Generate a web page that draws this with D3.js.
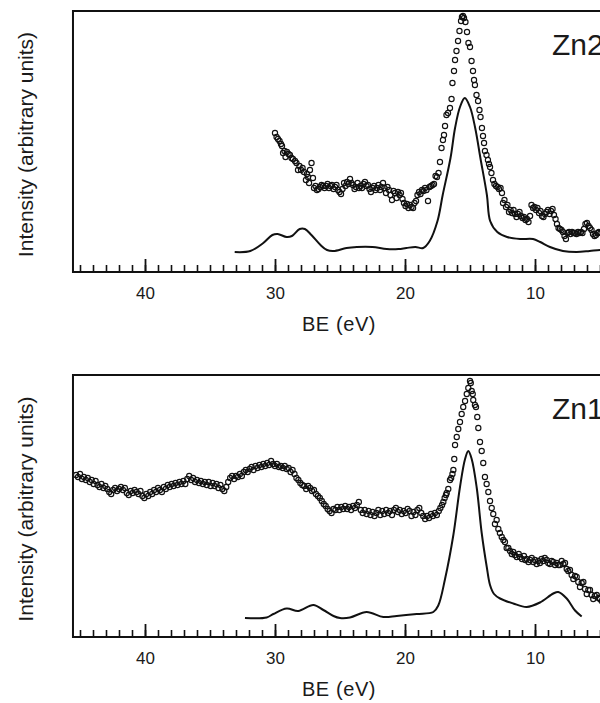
<!DOCTYPE html>
<html>
  <head>
    <meta charset="UTF-8">
    <script src="https://d3js.org/d3.v7.min.js"></script>
    <style>
      body { margin: 0; background: #fff; }
      text { font-family: "Liberation Sans", Arial, sans-serif; fill: #1a1a1a; }
    </style>
  </head>
  <body>
    <svg id="chart" width="600" height="703"></svg>
    <script>
      // BE (eV) and intensity (arbitrary units)
      var majorTicks = [40, 30, 20, 10];
      var minorTicks = d3.range(4, 46);
      var panelNames = ["Zn2", "Zn1"];

      var zn2Theory = [[33.1,20],[31.9,21],[30.9,29],[30.2,37],[29.8,38],[29.1,35],[28.7,36],[28.1,43],[27.7,43],
        [27.2,37],[26.5,27],[26.0,22],[25.5,21],[24.5,24],[23.7,25],[22.5,25],[21.4,23],[20.5,23],[19.9,24],
        [19.2,25],[18.6,24],[18.1,31],[17.5,51],[17.1,77],[16.5,114],[16.15,144],[15.77,165],[15.4,174],
        [15.0,165],[14.6,144],[14.2,114],[13.7,77],[13.45,51],[12.9,40],[12.15,35],[11.15,33],[10.15,33],
        [9.6,30],[8.85,25],[7.85,21],[6.8,20],[5.8,21],[5.0,22],[4.0,22]];

      var zn2Exp = [[30.00,139],[29.88,135],[29.77,133],[29.65,131],[29.54,128],[29.46,126],[29.38,119],[29.27,121],
        [29.19,115],[29.08,120],[28.96,118],[28.85,117],[28.73,114],[28.62,113],[28.46,111],[28.35,109],[28.23,102],
        [28.12,106],[28.00,102],[27.88,104],[27.77,100],[27.62,92],[27.54,98],[27.46,95],[27.38,89],[27.31,102],
        [27.19,109],[27.08,94],[27.00,84],[26.88,86],[26.77,82],[26.65,83],[26.54,85],[26.42,87],[26.31,86],
        [26.19,84],[26.08,86],[25.96,88],[25.85,84],[25.73,86],[25.62,87],[25.50,83],[25.38,85],[25.27,87],
        [25.15,82],[25.04,80],[24.92,78],[24.81,83],[24.69,89],[24.58,86],[24.46,90],[24.35,88],[24.23,93],
        [24.12,89],[24.00,87],[23.88,83],[23.77,85],[23.65,89],[23.54,84],[23.42,86],[23.31,84],[23.19,88],
        [23.08,90],[22.96,86],[22.85,87],[22.73,83],[22.62,80],[22.50,84],[22.38,86],[22.27,82],[22.15,84],
        [22.04,87],[21.92,82],[21.81,85],[21.69,89],[21.58,84],[21.46,79],[21.35,85],[21.23,82],[21.12,77],
        [21.00,72],[20.88,81],[20.77,79],[20.65,74],[20.54,80],[20.42,77],[20.31,79],[20.19,73],[20.08,69],
        [19.96,66],[19.85,68],[19.73,64],[19.62,67],[19.50,65],[19.38,64],[19.27,69],[19.15,71],[19.04,77],
        [18.92,80],[18.81,78],[18.69,82],[18.58,81],[18.46,84],[18.35,82],[18.23,71],[18.12,85],[18.00,86],
        [17.88,87],[17.77,88],[17.65,96],[17.54,95],[17.42,99],[17.31,110],[17.19,124],[17.08,132],[17.00,137],
        [16.92,146],[16.81,157],[16.69,159],[16.54,164],[16.42,173],[16.35,189],[16.23,201],[16.15,212],
        [16.04,221],[15.92,231],[15.81,241],[15.69,251],[15.62,255],[15.54,256],[15.46,254],[15.35,250],
        [15.23,240],[15.12,229],[15.00,225],[14.88,211],[14.77,201],[14.69,192],[14.62,187],[14.50,177],
        [14.38,171],[14.27,162],[14.19,155],[14.08,144],[14.00,136],[13.92,129],[13.85,121],[13.73,117],
        [13.62,112],[13.54,108],[13.46,105],[13.35,99],[13.23,92],[13.12,88],[13.00,86],[12.88,85],[12.77,83],
        [12.65,84],[12.54,79],[12.46,69],[12.35,72],[12.23,65],[12.12,67],[12.00,60],[11.88,62],[11.77,59],
        [11.65,62],[11.54,58],[11.42,55],[11.31,58],[11.19,60],[11.08,56],[10.96,54],[10.85,55],[10.73,52],
        [10.62,53],[10.50,50],[10.38,56],[10.27,67],[10.15,64],[10.04,65],[9.92,62],[9.81,64],[9.69,59],
        [9.58,61],[9.46,56],[9.35,55],[9.23,58],[9.12,60],[9.00,62],[8.88,58],[8.77,61],[8.65,63],[8.54,57],
        [8.42,53],[8.31,48],[8.19,44],[8.08,43],[7.96,42],[7.85,40],[7.73,36],[7.62,33],[7.50,39],[7.38,40],
        [7.27,38],[7.15,40],[7.04,39],[6.92,39],[6.81,38],[6.69,40],[6.58,39],[6.46,40],[6.35,39],[6.23,43],
        [6.12,48],[6.00,49],[5.88,46],[5.77,44],[5.65,42],[5.54,38],[5.42,36],[5.31,37],[5.19,39],[5.08,40],
        [4.96,39]];

      var zn1Theory = [[32.31,19],[30.64,19.5],[30.13,23],[29.1,28.5],[28.21,26],[27.05,32],[26.28,27],[25.5,21],
        [25.0,19],[24.23,19.5],[22.95,25],[21.67,20],[20.64,21],[19.1,23],[17.82,25],[17.44,31.5],[16.92,58],
        [16.28,102],[15.77,150],[15.38,178],[15.13,186],[14.87,178],[14.48,149],[14.1,104],[13.71,70],[13.46,52],
        [13.15,43],[12.69,38.5],[11.67,33.5],[10.64,30],[9.62,34.5],[8.59,43.5],[8.21,45],[7.56,38.5],
        [6.92,26.5],[6.41,20.5]];

      var zn1Exp = [[45.30,162],[45.15,160],[45.00,163],[44.85,158],[44.70,160],[44.55,157],[44.40,159],[44.25,155],
        [44.10,157],[43.95,153],[43.80,156],[43.65,152],[43.50,150],[43.35,153],[43.20,149],[43.05,151],[42.90,148],
        [42.75,145],[42.60,143],[42.45,147],[42.30,149],[42.15,146],[42.00,148],[41.85,150],[41.70,147],[41.55,149],
        [41.40,144],[41.25,142],[41.10,146],[40.95,144],[40.80,147],[40.65,145],[40.50,143],[40.35,146],[40.20,141],
        [40.05,139],[39.90,143],[39.75,141],[39.60,145],[39.45,143],[39.30,147],[39.15,145],[39.00,149],[38.85,147],
        [38.70,145],[38.55,150],[38.40,148],[38.25,152],[38.10,150],[37.95,153],[37.80,151],[37.65,154],[37.50,152],
        [37.35,155],[37.20,153],[37.05,156],[36.90,153],[36.75,158],[36.60,161],[36.45,157],[36.30,159],[36.15,155],
        [36.00,157],[35.85,154],[35.70,156],[35.55,153],[35.40,155],[35.25,152],[35.10,155],[34.95,151],[34.80,154],
        [34.65,151],[34.50,153],[34.35,149],[34.20,152],[34.05,148],[33.90,146],[33.75,150],[33.60,155],[33.45,159],
        [33.30,161],[33.15,158],[33.00,161],[32.85,160],[32.70,163],[32.55,161],[32.40,165],[32.25,167],[32.10,165],
        [31.95,168],[31.80,170],[31.65,167],[31.50,171],[31.35,169],[31.20,172],[31.05,170],[30.90,173],[30.75,171],
        [30.60,174],[30.45,172],[30.30,176],[30.15,173],[30.00,171],[29.85,173],[29.70,170],[29.55,171],[29.40,169],
        [29.25,171],[29.10,168],[28.95,169],[28.80,165],[28.65,167],[28.50,163],[28.35,159],[28.20,157],[28.05,154],
        [27.90,152],[27.75,151],[27.60,148],[27.45,151],[27.30,149],[27.15,146],[27.00,147],[26.85,143],[26.70,141],
        [26.55,139],[26.40,136],[26.25,133],[26.10,131],[25.95,128],[25.80,126],[25.65,124],[25.50,128],[25.35,127],
        [25.20,130],[25.05,127],[24.90,130],[24.75,128],[24.60,131],[24.45,128],[24.30,130],[24.15,127],[24.00,131],
        [23.85,129],[23.70,132],[23.55,135],[23.40,127],[23.25,124],[23.10,127],[22.95,123],[22.80,126],[22.65,122],
        [22.50,125],[22.35,121],[22.20,124],[22.05,127],[21.90,122],[21.75,126],[21.60,123],[21.45,127],[21.30,124],
        [21.15,126],[21.00,122],[20.85,127],[20.70,129],[20.55,125],[20.40,127],[20.25,123],[20.10,126],[19.95,124],
        [19.80,128],[19.65,126],[19.50,121],[19.35,125],[19.20,122],[19.05,127],[18.90,129],[18.75,124],[18.60,121],
        [18.45,118],[18.30,121],[18.15,119],[18.00,123],[17.85,121],[17.70,124],[17.55,122],[17.40,126],[17.28,129],
        [17.15,132],[17.05,135],[16.95,139],[16.85,142],[16.79,144],[16.67,148],[16.54,157],[16.45,159],[16.35,163],
        [16.28,167],[16.21,178],[16.15,192],[16.02,200],[15.90,208],[15.77,215],[15.64,223],[15.52,230],[15.38,236],
        [15.25,243],[15.13,249],[15.00,256],[14.94,254],[14.87,246],[14.79,243],[14.75,237],[14.62,232],[14.54,230],
        [14.44,220],[14.36,209],[14.23,195],[14.10,186],[13.98,174],[13.85,160],[13.72,153],[13.59,145],[13.46,136],
        [13.33,129],[13.21,123],[13.08,113],[12.95,117],[12.82,108],[12.70,104],[12.56,100],[12.43,97],[12.31,95],
        [12.18,89],[12.05,89],[11.92,86],[11.79,83],[11.67,85],[11.55,82],[11.40,80],[11.25,83],[11.15,80],[11.00,78],
        [10.85,81],[10.75,77],[10.64,78],[10.50,75],[10.38,77],[10.25,79],[10.13,75],[10.00,77],[9.87,73],[9.75,76],
        [9.62,74],[9.50,78],[9.37,76],[9.25,79],[9.10,77],[8.98,74],[8.85,73],[8.72,76],[8.59,75],[8.46,72],[8.33,74],
        [8.20,72],[8.08,72],[7.95,76],[7.82,73],[7.69,74],[7.56,68],[7.44,66],[7.31,67],[7.18,62],[7.05,58],[6.92,61],
        [6.79,60],[6.67,55],[6.54,50],[6.41,54],[6.28,55],[6.15,48],[6.02,43],[5.90,47],[5.77,47],[5.64,42],[5.52,38],
        [5.40,41],[5.25,42],[5.12,39],[5.00,38],[4.88,36]];

      var svg = d3.select("#chart");
      var x = d3.scaleLinear().domain([40, 10]).range([145, 535]);
      var left = x(45.54), right = 640;

      var panels = [
        {name: panelNames[0], top: 11, bottom: 272, ymax: 261, theory: zn2Theory, exp: zn2Exp},
        {name: panelNames[1], top: 375, bottom: 637, ymax: 262, theory: zn1Theory, exp: zn1Exp}
      ];

      panels.forEach(function(p) {
        var y = d3.scaleLinear().domain([0, p.ymax]).range([p.bottom, p.top]);
        var g = svg.append("g");

        // frame
        g.append("rect")
          .attr("x", left).attr("y", p.top)
          .attr("width", right - left).attr("height", p.bottom - p.top)
          .attr("fill", "none").attr("stroke", "#111").attr("stroke-width", 2);

        // inward ticks
        var minor = d3.axisBottom(x).tickValues(minorTicks).tickSize(-7).tickFormat("");
        g.append("g").attr("transform", "translate(0," + p.bottom + ")").call(minor)
          .call(a => a.select(".domain").remove())
          .selectAll("line").attr("stroke", "#111").attr("stroke-width", 1.6);

        var major = d3.axisBottom(x).tickValues(majorTicks).tickSize(-13).tickPadding(15);
        var ax = g.append("g").attr("transform", "translate(0," + p.bottom + ")").call(major);
        ax.select(".domain").remove();
        ax.selectAll("line").attr("stroke", "#111").attr("stroke-width", 1.8);
        ax.selectAll("text").attr("font-size", 17).attr("fill", "#1a1a1a")
          .attr("font-family", "Liberation Sans, Arial, sans-serif");

        // axis titles
        g.append("text")
          .attr("x", 339).attr("y", p.bottom + 59)
          .attr("text-anchor", "middle").attr("font-size", 20).attr("letter-spacing", 0.6)
          .text("BE (eV)");
        g.append("text")
          .attr("transform", "translate(33," + ((p.top + p.bottom) / 2 + 3) + ") rotate(-90)")
          .attr("text-anchor", "middle").attr("font-size", 21)
          .text("Intensity (arbitrary units)");

        // theory curve
        var line = d3.line()
          .x(d => x(d[0])).y(d => y(d[1]))
          .curve(d3.curveCatmullRom.alpha(0.5));
        g.append("path").datum(p.theory)
          .attr("d", line).attr("fill", "none")
          .attr("stroke", "#111").attr("stroke-width", 2);

        // experimental points
        g.selectAll("circle.pt").data(p.exp).enter().append("circle")
          .attr("class", "pt")
          .attr("cx", d => x(d[0])).attr("cy", d => y(d[1]))
          .attr("r", 2.6)
          .attr("fill", "none").attr("stroke", "#111").attr("stroke-width", 1.15);

        // panel label (cut by the right edge, as in the original figure)
        g.append("text")
          .attr("x", 552).attr("y", p.top + 44)
          .attr("font-size", 30)
          .text(p.name);
      });
    </script>
  </body>
</html>
